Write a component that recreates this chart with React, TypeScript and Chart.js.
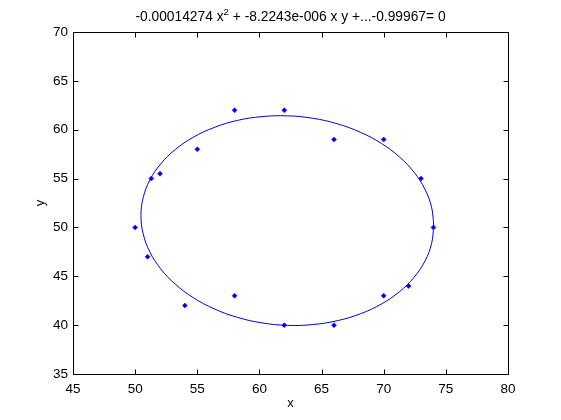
import { useEffect, useRef } from "react";
import { Chart, registerables } from "chart.js";

Chart.register(...registerables);

// ---- data ----
const titleMain = "-0.00014274 x";
const titleSup = "2";
const titleRest = " + -8.2243e-006 x y +...-0.99967= 0";
const xAxisLabel = "x";
const yAxisLabel = "y";

const xMin = 45;
const xMax = 80;
const yMin = 35;
const yMax = 70;
const tickStep = 5;

const pointX = [50, 51, 51.3, 52, 54, 55, 58, 58, 62, 62, 66, 66, 70, 70, 72, 73, 74];
const pointY = [50, 47, 55, 55.5, 42, 58, 62, 43, 62, 40, 59, 40, 59, 43, 44, 55, 50];

const ellipseX = [
  74.03, 73.85, 73.32, 72.45, 71.27, 69.82, 68.14, 66.28, 64.3, 62.25,
  60.21, 58.22, 56.36, 54.68, 53.23, 52.05, 51.18, 50.65, 50.47, 50.65,
  51.18, 52.05, 53.23, 54.68, 56.36, 58.22, 60.21, 62.25, 64.3, 66.28,
  68.14, 69.82, 71.27, 72.45, 73.32, 73.85, 74.03,
];
const ellipseY = [
  50.2, 52.07, 53.9, 55.63, 57.21, 58.59, 59.73, 60.6, 61.17, 61.42,
  61.34, 60.95, 60.23, 59.23, 57.97, 56.49, 54.84, 53.05, 51.2, 49.33,
  47.5, 45.77, 44.19, 42.81, 41.67, 40.8, 40.23, 39.98, 40.06, 40.46,
  41.17, 42.17, 43.43, 44.91, 46.56, 48.35, 50.2,
];

const FONT = "'Liberation Sans', Arial, sans-serif";

const framePlugin = {
  id: "matlabFrame",
  afterDraw(chart: any) {
    const { ctx, chartArea: a, scales } = chart;
    const L = Math.round(a.left) + 0.5;
    const R = Math.round(a.right) + 0.5;
    const T = Math.round(a.top) + 0.5;
    const B = Math.round(a.bottom) + 0.5;
    ctx.save();
    ctx.strokeStyle = "#000";
    ctx.lineWidth = 1;
    ctx.beginPath();
    ctx.rect(L, T, R - L, B - T);
    const tl = 5;
    for (let v = xMin; v <= xMax; v += tickStep) {
      const px = Math.round(scales.x.getPixelForValue(v)) + 0.5;
      ctx.moveTo(px, B);
      ctx.lineTo(px, B - tl);
      ctx.moveTo(px, T);
      ctx.lineTo(px, T + tl);
    }
    for (let v = yMin; v <= yMax; v += tickStep) {
      const py = Math.round(scales.y.getPixelForValue(v)) + 0.5;
      ctx.moveTo(L, py);
      ctx.lineTo(L + tl, py);
      ctx.moveTo(R, py);
      ctx.lineTo(R - tl, py);
    }
    ctx.stroke();

    // title with superscript
    ctx.fillStyle = "#000";
    ctx.textBaseline = "alphabetic";
    const mainFont = `13.8px ${FONT}`;
    const supFont = `9.5px ${FONT}`;
    ctx.font = mainFont;
    const w1 = ctx.measureText(titleMain).width;
    const w3 = ctx.measureText(titleRest).width;
    ctx.font = supFont;
    const w2 = ctx.measureText(titleSup).width;
    const total = w1 + w2 + w3;
    const cx = (a.left + a.right) / 2;
    const x0 = cx - total / 2;
    const baseY = 21;
    ctx.textAlign = "left";
    ctx.font = mainFont;
    ctx.fillText(titleMain, x0, baseY);
    ctx.font = supFont;
    ctx.fillText(titleSup, x0 + w1, baseY - 6);
    ctx.font = mainFont;
    ctx.fillText(titleRest, x0 + w1 + w2, baseY);

    // axis labels
    ctx.font = `13px ${FONT}`;
    ctx.textAlign = "center";
    ctx.textBaseline = "middle";
    ctx.fillText(xAxisLabel, cx, 403);
    ctx.save();
    ctx.translate(40, (a.top + a.bottom) / 2);
    ctx.rotate(-Math.PI / 2);
    ctx.fillText(yAxisLabel, 0, 0);
    ctx.restore();
    ctx.restore();
  },
};

export default function App() {
  const ref = useRef<HTMLCanvasElement | null>(null);
  useEffect(() => {
    if (!ref.current) return;
    const chart = new Chart(ref.current, {
      type: "scatter",
      data: {
        datasets: [
          {
            label: "fit",
            data: ellipseX.map((x, i) => ({ x, y: ellipseY[i] })),
            showLine: true,
            borderColor: "#0000d0",
            borderWidth: 1,
            pointRadius: 0,
            fill: false,
            tension: 0.4,
          },
          {
            label: "points",
            data: pointX.map((x, i) => ({ x, y: pointY[i] })),
            showLine: false,
            pointStyle: "rectRot",
            pointRadius: 2.5,
            backgroundColor: "#0000ff",
            borderColor: "#0000ff",
            borderWidth: 0.5,
          },
        ],
      },
      options: {
        responsive: false,
        animation: false,
        devicePixelRatio: 1,
        layout: { padding: { top: 32, right: 53, left: 0, bottom: 0 } },
        plugins: {
          legend: { display: false },
          title: { display: false },
          tooltip: { enabled: false },
        },
        scales: {
          x: {
            type: "linear",
            min: xMin,
            max: xMax,
            grid: { display: false, drawTicks: false },
            border: { display: false },
            ticks: {
              stepSize: tickStep,
              color: "#000",
              padding: 7,
              font: { family: FONT, size: 13.5 },
              maxRotation: 0,
              autoSkip: false,
            },
            afterFit: (s: any) => {
              s.height = 46;
            },
          },
          y: {
            type: "linear",
            min: yMin,
            max: yMax,
            grid: { display: false, drawTicks: false },
            border: { display: false },
            ticks: {
              stepSize: tickStep,
              color: "#000",
              padding: 5,
              font: { family: FONT, size: 13.5 },
              autoSkip: false,
            },
            afterFit: (s: any) => {
              s.width = 73;
            },
          },
        },
      },
      plugins: [framePlugin],
    });
    return () => chart.destroy();
  }, []);
  return (
    <div
      style={{
        position: "fixed",
        left: 0,
        top: 0,
        width: 561,
        height: 420,
        background: "#fff",
      }}
    >
      <canvas ref={ref} width={561} height={420} style={{ display: "block" }} />
    </div>
  );
}
